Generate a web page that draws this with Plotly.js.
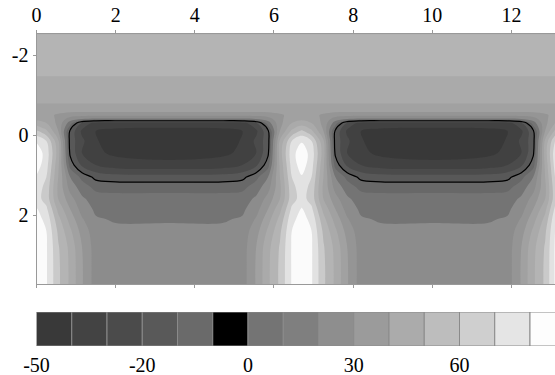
<!DOCTYPE html>
<html>
<head>
<meta charset="utf-8">
<script src="https://cdn.plot.ly/plotly-3.0.1.min.js"></script>
<style>html,body{margin:0;padding:0;background:#fff;}#chart{width:555px;height:375px;}</style>
</head>
<body>
<div id="chart"></div>
<script>
// Horizontal positions (distance along section) of the grid columns
const xPos = [0,0.25,0.55,0.85,1.15,1.5,2.0,3.35,4.7,5.2,5.55,5.85,6.15,6.45,6.7,6.95,7.25,7.55,7.85,8.2,8.7,10.05,11.4,11.9,12.25,12.55,12.85,13.1];
// Depth of the grid rows
const depth = [-2.55,-1.5,-1.44,-0.82,-0.76,-0.6,-0.5,-0.4,-0.3,-0.1,0.15,0.45,0.75,1.05,1.3,1.6,1.85,2.1,2.4,2.8,3.3,3.75];
// Field values (rows follow depth, columns follow xPos)
const field = [
 [55,55,55,55,55,55,55,55,55,55,55,55,55,55,55,55,55,55,55,55,55,55,55,55,55,55,55,55],
 [55,55,55,55,55,55,55,55,55,55,55,55,55,55,55,55,55,55,55,55,55,55,55,55,55,55,55,55],
 [45,45,45,45,45,45,45,45,45,45,45,45,45,45,45,45,45,45,45,45,45,45,45,45,45,45,45,45],
 [45,45,45,45,45,45,45,45,45,45,45,45,45,45,45,45,45,45,45,45,45,45,45,45,45,45,45,45],
 [35,35,35,35,35,35,35,35,35,35,35,35,35,35,35,35,35,35,35,35,35,35,35,35,35,35,35,35],
 [32,32,32,32,32,32,32,32,32,32,32,32,32,32,32,32,32,32,32,32,32,32,32,32,32,32,32,32],
 [33,32,29,25,23,22,22,22,22,22,23,25,29,32,33,32,29,25,23,22,22,22,22,22,23,25,29,32],
 [38,35,28,15,10,8,8,8,8,8,10,15,28,35,38,35,28,15,10,8,8,8,8,8,10,15,28,35],
 [45,40,27,5,-22,-34,-36,-36,-36,-34,-22,5,27,40,45,40,27,5,-22,-34,-36,-36,-36,-34,-22,5,27,40],
 [62,52,30,-12,-32,-40,-42,-43,-42,-40,-32,-12,30,52,62,52,30,-12,-32,-40,-42,-43,-42,-40,-32,-12,30,52],
 [79,70,42,-14,-28,-39,-46,-48,-46,-39,-28,-14,42,70,79,70,42,-14,-28,-39,-46,-48,-46,-39,-28,-14,42,70],
 [86,76,45,-12,-30,-38,-42,-44,-42,-38,-30,-12,45,76,86,76,45,-12,-30,-38,-42,-44,-42,-38,-30,-12,45,76],
 [85,74,42,-4,-22,-30,-35,-37,-35,-30,-22,-4,42,74,85,74,42,-4,-22,-30,-35,-37,-35,-30,-22,-4,42,74],
 [79,70,40,10,-3,-13,-15.5,-16,-15.5,-13,-3,10,40,70,79,70,40,10,-3,-13,-15.5,-16,-15.5,-13,-3,10,40,70],
 [75,67,38,16,5,-3,-4,-4,-4,-3,5,16,38,67,75,67,38,16,5,-3,-4,-4,-4,-3,5,16,38,67],
 [74,66,40,24,12,5,4,4,4,5,12,24,40,66,74,66,40,24,12,5,4,4,4,5,12,24,40,66],
 [81,72,47,30,16,8,7,7,7,8,16,30,47,72,81,72,47,30,16,8,7,7,7,8,16,30,47,72],
 [84,77,53,36,21,11,9,9,9,11,21,36,53,77,84,77,53,36,21,11,9,9,9,11,21,36,53,77],
 [86,80,58,42,26,14,12,12,12,14,26,42,58,80,86,80,58,42,26,14,12,12,12,14,26,42,58,80],
 [86,81,61,47,30,15,13,13,13,15,30,47,61,81,86,81,61,47,30,15,13,13,13,15,30,47,61,81],
 [86,81,62,48,31,15,13,13,13,15,31,48,62,81,86,81,62,48,31,15,13,13,13,15,31,48,62,81],
 [86,81,62,48,31,15,13,13,13,15,31,48,62,81,86,81,62,48,31,15,13,13,13,15,31,48,62,81]
];
// Contour levels of the filled field and the outlined level
const levelStart = -40, levelEnd = 80, levelStep = 10;
const outlineLevel = -10;
// Fill colours, darkest (below -40) to lightest (above 80)
const fillColors = ['#383838','#414141','#4b4b4b','#585858','#686868','#747474','#8c8c8c','#959595','#a1a1a1','#aaaaaa','#b4b4b4','#cacaca','#e2e2e2','#fbfbfb'];
// Legend boxes (lower bound of each box) and their colours
const legendLevels = [-50,-40,-30,-20,-15,-10,0,10,20,30,40,50,60,70,80];
const legendColors = ['#393939','#434343','#4b4b4b','#595959','#6a6a6a','#000000','#747474','#7f7f7f','#8e8e8e','#9b9b9b','#ababab','#bdbdbd','#cfcfcf','#e5e5e5','#fdfdfd'];
const legendLabels = ['-50','-20','0','30','60'];
const xTicks = [0,2,4,6,8,10,12];
const xTickText = ['0','2','4','6','8','10','12'];
const yTicks = [-2,0,2];
const yTickText = ['-2','0','2'];

const n = fillColors.length - 1;
const colorscale = fillColors.map((c, i) => [i / n, c]);

const W = 555, H = 375;
const left = 36.5;
const font = {family: 'Liberation Serif', size: 20, color: '#000'};

const traces = [
  {
    type: 'contour', x: xPos, y: depth, z: field,
    colorscale: colorscale, showscale: false,
    contours: {start: levelStart, end: levelEnd, size: levelStep, coloring: 'fill', showlines: false},
    line: {smoothing: 1, width: 0},
    hoverinfo: 'skip', xaxis: 'x', yaxis: 'y'
  },
  {
    type: 'contour', x: xPos, y: depth, z: field,
    showscale: false,
    contours: {start: outlineLevel, end: outlineLevel, size: 1, coloring: 'none', showlines: true},
    line: {color: '#000', width: 1.2, smoothing: 1},
    hoverinfo: 'skip', xaxis: 'x', yaxis: 'y'
  },
  {
    type: 'bar', x: legendLevels.map((v, i) => i), y: legendLevels.map(() => 1),
    width: 1, offset: 0,
    marker: {color: legendColors, line: {color: '#8a8a8a', width: 1}},
    hoverinfo: 'skip', xaxis: 'x2', yaxis: 'y2', showlegend: false
  }
];

const layout = {
  width: W, height: H,
  margin: {l: 0, r: 0, t: 0, b: 0},
  paper_bgcolor: '#fff', plot_bgcolor: '#fff',
  showlegend: false, bargap: 0,
  font: font,
  xaxis: {
    domain: [left / W, 1], range: [0, 13.1], side: 'top',
    tickvals: xTicks, ticktext: xTickText, ticks: 'outside', ticklen: 3, tickcolor: '#999', tickwidth: 1,
    showline: true, linecolor: '#999', linewidth: 1, mirror: 'ticks',
    showgrid: false, zeroline: false, tickfont: font, anchor: 'y'
  },
  yaxis: {
    domain: [1 - 284.3 / H, 1 - 34.3 / H], range: [3.73, -2.52],
    tickvals: yTicks, ticktext: yTickText, ticks: 'outside', ticklen: 3, tickcolor: '#999', tickwidth: 1,
    showline: true, linecolor: '#999', linewidth: 1, mirror: 'ticks',
    showgrid: false, zeroline: false, tickfont: font, anchor: 'x'
  },
  xaxis2: {
    domain: [left / W, 1], range: [0, (W - left) / 35.25], anchor: 'y2',
    tickvals: legendLabels.map(v => legendLevels.indexOf(Number(v))), ticktext: legendLabels,
    ticks: '', ticklabelstandoff: 5,
    showline: false, showgrid: false, zeroline: false, tickfont: font
  },
  yaxis2: {
    domain: [1 - 346 / H, 1 - 312 / H], range: [0, 1], anchor: 'x2',
    showticklabels: false, ticks: '', showgrid: false, zeroline: false, showline: false
  }
};

Plotly.newPlot('chart', traces, layout, {staticPlot: true, displayModeBar: false});
</script>
</body>
</html>
